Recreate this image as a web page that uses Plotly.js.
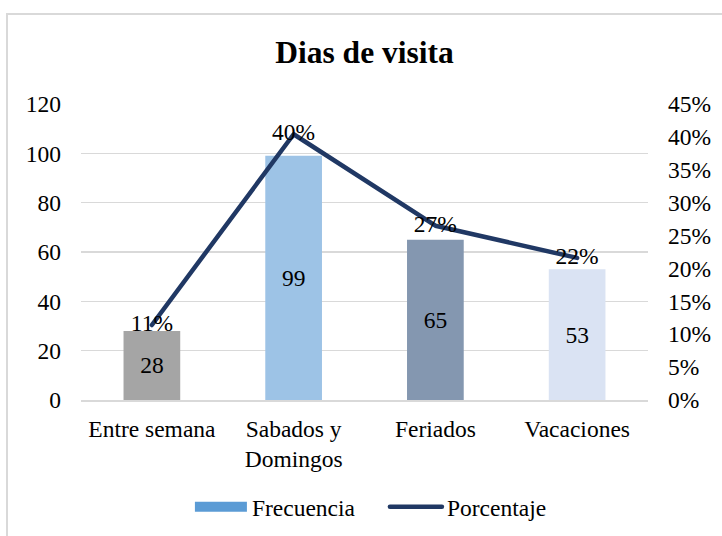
<!DOCTYPE html>
<html>
<head>
<meta charset="utf-8">
<script src="https://cdn.plot.ly/plotly-3.0.1.min.js"></script>
<style>
html,body{margin:0;padding:0;background:#fff;overflow:hidden;}
#wrap{position:relative;width:722px;height:536px;}
#chart{width:722px;height:536px;}
#frame{position:absolute;left:6px;top:13px;width:800px;height:600px;border:2px solid #d9d9d9;pointer-events:none;box-sizing:border-box;}
</style>
</head>
<body>
<div id="wrap"><div id="chart"></div><div id="frame"></div></div>
<script>
var categories = ["Entre semana", "Sabados y<br>Domingos", "Feriados", "Vacaciones"];
var frecuencia = [28, 99, 65, 53];
var porcentaje = [0.114, 0.404, 0.265, 0.216];
var porcentajeLabels = ["11%", "40%", "27%", "22%"];
var barColors = ["#a5a5a5", "#9dc3e6", "#8497b0", "#dae3f3"];
var legendBarColor = "#5b9bd5";
var lineColor = "#203864";
var font = "Liberation Serif, Times New Roman, serif";
var fs = 23.5;

var traces = [
  {
    type: "bar", x: categories, y: frecuencia, name: "Frecuencia",
    marker: {color: barColors}, width: 0.4, showlegend: false,
    text: frecuencia.map(String), textposition: "inside", insidetextanchor: "middle",
    textfont: {family: font, size: fs, color: "#000"}, hoverinfo: "skip"
  },
  {
    type: "scatter", mode: "lines", x: [null], y: [null], name: "Frecuencia",
    line: {color: legendBarColor, width: 12}, showlegend: true, hoverinfo: "skip"
  },
  {
    type: "scatter", mode: "lines+text", x: categories, y: porcentaje, yaxis: "y2",
    name: "Porcentaje", line: {color: lineColor, width: 4.5},
    text: porcentajeLabels, textposition: "middle center",
    textfont: {family: font, size: fs, color: "#000"}, hoverinfo: "skip"
  }
];

var layout = {
  width: 722, height: 536,
  margin: {l: 81, r: 74, t: 104, b: 136, pad: 0},
  paper_bgcolor: "#fff", plot_bgcolor: "#fff",
  font: {family: font, size: fs, color: "#000"},
  title: {text: "<b>Dias de visita</b>", font: {family: font, size: 31.5, color: "#000"},
          x: 0.5, xref: "paper", xanchor: "center", y: 0.903, yanchor: "middle", yref: "container"},
  barmode: "overlay",
  showlegend: true,
  legend: {orientation: "h", x: 0.536, xanchor: "center", y: 0.054, yanchor: "middle", yref: "container",
           font: {family: font, size: fs, color: "#000"}, itemwidth: 52, traceorder: "normal",
           entrywidth: 128, entrywidthmode: "pixels"},
  xaxis: {
    type: "category", showgrid: false, showline: true, linecolor: "#d9d9d9", linewidth: 1.5,
    ticks: "", tickfont: {family: font, size: fs, color: "#000"}, ticklabelstandoff: 7,
    fixedrange: true
  },
  yaxis: {
    range: [0, 120], dtick: 20, showgrid: true, gridcolor: "#d9d9d9", gridwidth: 1.5,
    zeroline: false, showline: false, ticks: "", ticklabelstandoff: 19,
    tickfont: {family: font, size: fs, color: "#000"}, fixedrange: true
  },
  yaxis2: {
    overlaying: "y", side: "right", range: [0, 0.45], dtick: 0.05, tickformat: ".0%",
    showgrid: false, zeroline: false, showline: false, ticks: "", ticklabelstandoff: 19,
    tickfont: {family: font, size: fs, color: "#000"}, fixedrange: true
  }
};

Plotly.newPlot("chart", traces, layout, {displayModeBar: false, staticPlot: true}).then(function (gd) {
  // lengthen legend symbols to look like the reference swatches
  var groups = gd.querySelectorAll(".legend .legendlines");
  groups.forEach(function (g, i) {
    g.querySelectorAll("path").forEach(function (p) {
      p.setAttribute("d", "M5,0h52");
      p.style.strokeLinecap = i === 0 ? "butt" : "round";
    });
  });
  var lines = gd.querySelectorAll(".scatterlayer .js-line");
  lines.forEach(function (p) { p.style.strokeLinejoin = "round"; p.style.strokeLinecap = "round"; });
});
</script>
</body>
</html>
